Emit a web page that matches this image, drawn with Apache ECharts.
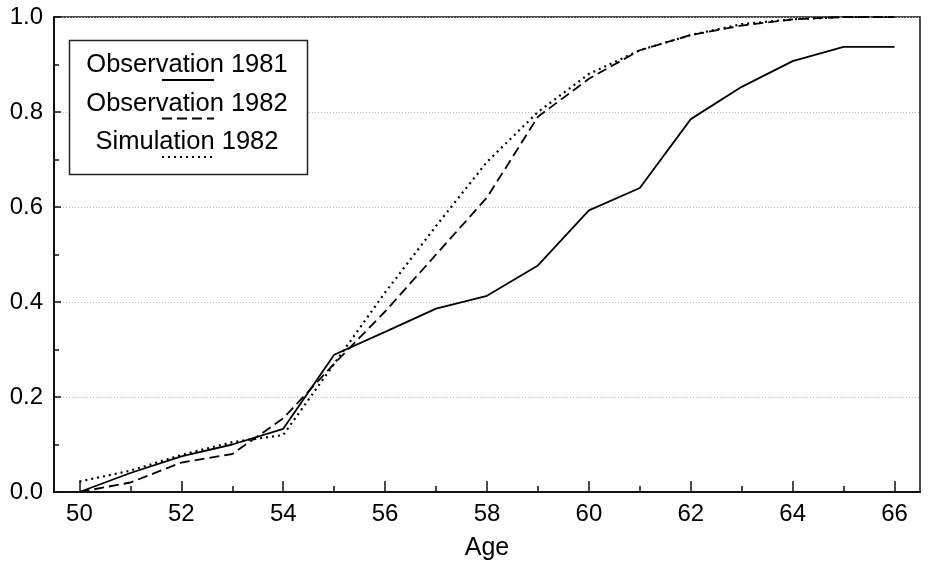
<!DOCTYPE html>
<html>
<head>
<meta charset="utf-8">
<script src="https://cdn.jsdelivr.net/npm/echarts@6/dist/echarts.min.js"></script>
<style>
  html, body { margin: 0; padding: 0; background: #fff; }
  #chart { width: 932px; height: 566px; }
</style>
</head>
<body>
<div id="chart"></div>
<script>
// ages on the x axis
const ages = [50, 51, 52, 53, 54, 55, 56, 57, 58, 59, 60, 61, 62, 63, 64, 65, 66];
// cumulative share
const obs1981 = [0.0, 0.04, 0.075, 0.10, 0.133, 0.289, 0.337, 0.386, 0.413, 0.477, 0.593, 0.64, 0.785, 0.853, 0.907, 0.937, 0.937];
const obs1982 = [0.0, 0.02, 0.062, 0.08, 0.155, 0.27, 0.38, 0.50, 0.62, 0.79, 0.87, 0.93, 0.962, 0.982, 0.995, 1.0, 1.0];
const sim1982 = [0.022, 0.045, 0.078, 0.105, 0.12, 0.27, 0.42, 0.56, 0.695, 0.80, 0.88, 0.93, 0.962, 0.985, 0.995, 1.0, 1.0];

const majorAges = [50, 52, 54, 56, 58, 60, 62, 64, 66];
const minorAges = [51, 53, 55, 57, 59, 61, 63, 65];
const legendNames = ['Observation 1981', 'Observation 1982', 'Simulation 1982'];

const FONT = '"Liberation Sans", Arial, Helvetica, sans-serif';

const pairs = vals => ages.map((a, i) => [a, vals[i]]);

const chart = echarts.init(document.getElementById('chart'), null, { renderer: 'canvas' });

// solid, dashed, dotted
const dashes = [null, [10, 5], [2, 4]];

chart.setOption({
  animation: false,
  grid: {
    left: 54, right: 12, top: 17, bottom: 74,
    show: true, borderColor: '#111', borderWidth: 1.5, backgroundColor: 'transparent'
  },
  xAxis: [{
    type: 'value',
    min: 49.5, max: 66.5,
    name: 'Age',
    nameLocation: 'middle',
    nameGap: 44,
    nameTextStyle: { color: '#000', fontSize: 25, fontFamily: FONT },
    axisLine: { show: true, onZero: false, lineStyle: { color: '#111', width: 2 } },
    axisTick: { show: true, inside: true, length: 11, customValues: majorAges, lineStyle: { color: '#111', width: 1.5 } },
    axisLabel: { customValues: majorAges, color: '#000', fontSize: 24, fontFamily: FONT, margin: 10 },
    splitLine: { show: false }
  }, {
    type: 'value',
    min: 49.5, max: 66.5,
    position: 'bottom',
    axisLine: { show: false },
    axisTick: { show: true, inside: true, length: 6, customValues: minorAges, lineStyle: { color: '#111', width: 1.5 } },
    axisLabel: { show: false },
    splitLine: { show: false }
  }],
  yAxis: {
    type: 'value',
    min: 0, max: 1, interval: 0.2,
    axisLine: { show: true, lineStyle: { color: '#111', width: 2 } },
    axisTick: { show: true, inside: true, length: 7, lineStyle: { color: '#111', width: 1.5 } },
    minorTick: { show: true, splitNumber: 2, length: 5, lineStyle: { color: '#111', width: 1.5 } },
    axisLabel: {
      color: '#000', fontSize: 24, fontFamily: FONT, margin: 11,
      formatter: v => v.toFixed(1)
    },
    splitLine: { show: true, lineStyle: { color: '#bbb', width: 1, type: [1, 2] } }
  },
  series: [obs1981, obs1982, sim1982].map((vals, i) => ({
    name: legendNames[i],
    type: 'line',
    xAxisIndex: 0,
    data: pairs(vals),
    symbol: 'none',
    lineStyle: { color: '#000', width: i === 2 ? 2.2 : 1.8, type: dashes[i] || 'solid' },
    z: 3
  })),
  graphic: [
    {
      type: 'rect',
      shape: { x: 69.5, y: 40.5, width: 238, height: 134 },
      style: { fill: '#fff', stroke: '#222', lineWidth: 1.5 },
      z: 10
    },
    ...legendNames.map((name, i) => ({
      type: 'text',
      x: 187, y: 65 + i * 38.5,
      style: {
        text: name, fill: '#000', font: '25.5px ' + FONT,
        align: 'center', verticalAlign: 'middle'
      },
      z: 11
    })),
    ...dashes.map((d, i) => ({
      type: 'line',
      shape: { x1: 162, y1: 80 + i * 38.5, x2: 214, y2: 80 + i * 38.5 },
      style: { stroke: '#000', lineWidth: i === 2 ? 2.2 : 1.8, lineDash: d || null },
      z: 11
    }))
  ]
});
</script>
</body>
</html>
